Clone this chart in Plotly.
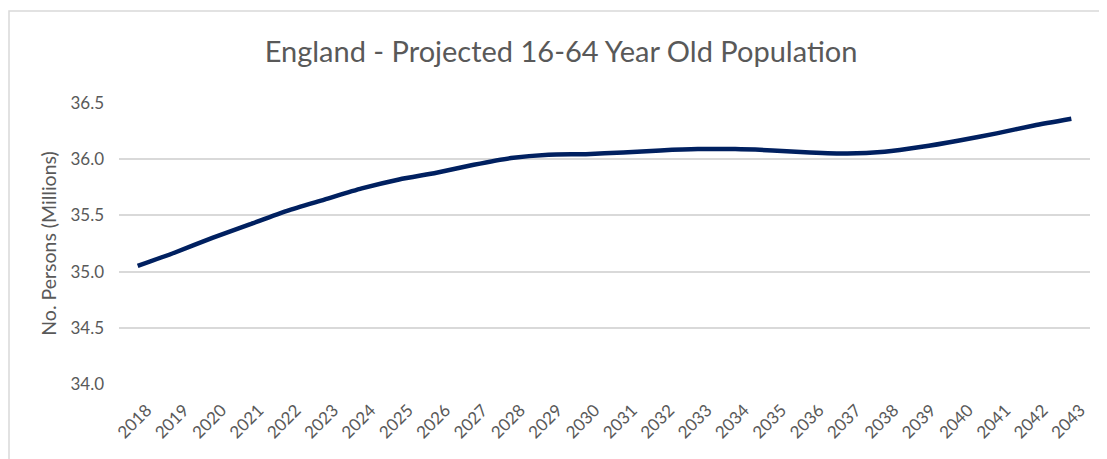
import plotly.graph_objects as go

years = [str(y) for y in range(2018, 2044)]
population_millions = [
    35.05, 35.17, 35.30, 35.42, 35.54, 35.64, 35.74, 35.82, 35.88, 35.95,
    36.01, 36.04, 36.045, 36.06, 36.078, 36.09, 36.09, 36.078, 36.06, 36.05,
    36.066, 36.11, 36.167, 36.23, 36.30, 36.36,
]
y_ticks = [34.0, 34.5, 35.0, 35.5, 36.0, 36.5]

# page body has an 8px default margin, so the figure is drawn 8px in from the window
W, H = 1099, 451
L, R, T, B = 111, 17, 95, 75
pw = W - L - R
ph = H - T - B

fig = go.Figure()
fig.add_trace(go.Scatter(
    x=years, y=population_millions, mode="lines",
    line=dict(color="#002060", width=4.5, shape="spline", smoothing=0.6),
    hoverinfo="x+y", showlegend=False,
))

grey = "#595959"
fig.update_layout(
    width=W, height=H,
    margin=dict(l=L, r=R, t=T, b=B, autoexpand=False),
    paper_bgcolor="white", plot_bgcolor="white",
    font=dict(family="Lato, Open Sans, sans-serif", color=grey),
    title=dict(
        text="England - Projected 16-64 Year Old Population",
        x=553 / W, xref="container", xanchor="center",
        y=1 - 44 / H, yref="container", yanchor="middle",
        font=dict(size=29, color=grey),
    ),
    xaxis=dict(
        type="category", range=[-0.5, len(years) - 0.5],
        tickangle=-45, showgrid=False, showline=False,
        tickfont=dict(size=17, color=grey), ticks="", zeroline=False,
        ticklabelstandoff=12, ticklabelshift=9,
    ),
    yaxis=dict(
        range=[34.0, 36.5], tickvals=y_ticks,
        ticktext=[f"{v:.1f}" for v in y_ticks],
        showgrid=True, gridcolor="#d9d9d9", gridwidth=1.5,
        zeroline=False, showline=False, ticks="",
        ticklabelstandoff=14,
        tickfont=dict(size=17, color=grey),
        title=dict(text="No. Persons (Millions)", font=dict(size=19.5, color=grey), standoff=8),
    ),
    shapes=[dict(
        type="rect", xref="paper", yref="paper",
        x0=(1 - L) / pw, x1=1.2, y0=-0.6, y1=(H - B - 3) / ph,
        line=dict(color="#d9d9d9", width=1.5), layer="below",
    )],
)

fig.write_html("out.html")
